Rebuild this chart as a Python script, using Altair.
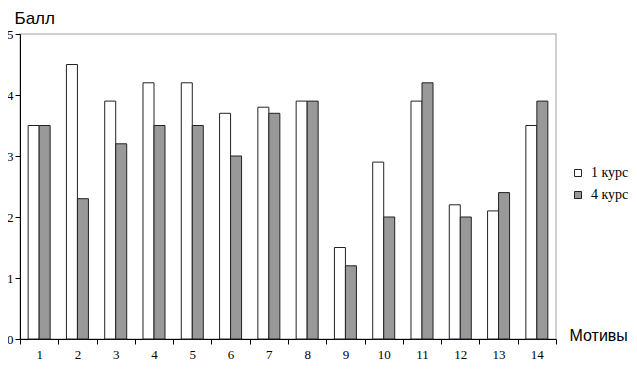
import altair as alt
import pandas as pd

motives = [str(i) for i in range(1, 15)]
course1 = [3.5, 4.5, 3.9, 4.2, 4.2, 3.7, 3.8, 3.9, 1.5, 2.9, 3.9, 2.2, 2.1, 3.5]
course4 = [3.5, 2.3, 3.2, 3.5, 3.5, 3.0, 3.7, 3.9, 1.2, 2.0, 4.2, 2.0, 2.4, 3.9]
series = ["1 курс", "4 курс"]
colors = ["#ffffff", "#999999"]
y_ticks = [0, 1, 2, 3, 4, 5]

rows = []
for m, a, b in zip(motives, course1, course4):
    rows.append({"motive": m, "course": series[0], "value": a})
    rows.append({"motive": m, "course": series[1], "value": b})
df = pd.DataFrame(rows)

W, H = 536, 305

chart = alt.Chart(df).mark_bar(stroke="#222222", strokeWidth=1).encode(
    x=alt.X("motive:O", sort=motives,
            scale=alt.Scale(paddingInner=0, paddingOuter=0),
            axis=alt.Axis(title="Мотивы", tickBand="extent", labelAngle=0,
                          labelFont="Liberation Serif", labelFontSize=13,
                          labelColor="black", labelPadding=4,
                          tickSize=5, tickColor="black", domainColor="black",
                          titleFont="Liberation Sans", titleFontSize=16,
                          titleFontWeight="normal", titleColor="black",
                          titleAlign="left", titleBaseline="alphabetic",
                          titleX=W + 13, titleY=1)),
    xOffset=alt.XOffset("course:N", sort=series,
                        scale=alt.Scale(paddingOuter=0.74, paddingInner=0)),
    y=alt.Y("value:Q", scale=alt.Scale(domain=[0, 5]),
            axis=alt.Axis(title="Балл", values=y_ticks, grid=False,
                          labelFont="Liberation Serif", labelFontSize=13,
                          labelColor="black", labelPadding=2,
                          tickSize=5, tickColor="black", domainColor="black",
                          titleFont="Liberation Sans", titleFontSize=17,
                          titleFontWeight="normal", titleColor="black",
                          titleAngle=0, titleAlign="left", titleBaseline="alphabetic",
                          titleX=-6, titleY=-11)),
    color=alt.Color("course:N", sort=series,
                    scale=alt.Scale(domain=series, range=colors),
                    legend=alt.Legend(title=None, orient="none", legendX=551, legendY=132,
                                      symbolType="square", symbolSize=49,
                                      symbolStrokeColor="#222222", symbolStrokeWidth=1,
                                      labelFont="Liberation Serif", labelFontSize=14,
                                      labelColor="black", labelOffset=6, rowPadding=8,
                                      padding=0)),
).properties(
    width=W, height=H,
    autosize=alt.AutoSizeParams(type="none"),
    padding={"left": 12, "top": 26, "right": 73, "bottom": 22},
).configure_view(stroke="#c0c0c0", strokeWidth=1.5)

chart.save("out.html", embed_options={"renderer": "svg", "actions": False})
